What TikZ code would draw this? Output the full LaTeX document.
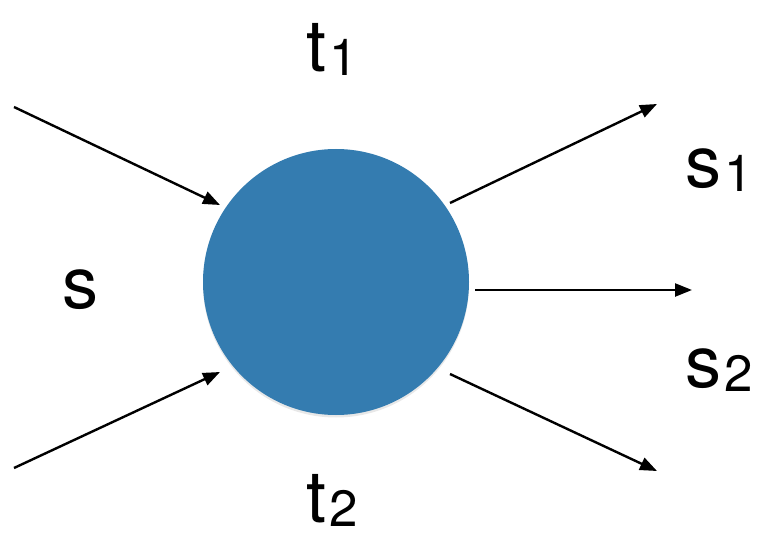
\documentclass[tikz,border=0pt]{standalone}
\usepackage{fontspec}
\setmainfont{TeX Gyre Heros}
\usetikzlibrary{arrows.meta,shadows}
\definecolor{ballblue}{RGB}{52,124,176}
\tikzset{
  flow/.style={line width=2.4pt,-{Triangle[length=17pt,width=13pt]}},
  lbl/.style={anchor=base west,inner sep=0pt,font=\fontsize{72}{72}\selectfont},
}
\newcommand{\subnum}[1]{\kern3pt\raisebox{-4pt}{\fontsize{51}{51}\selectfont #1}}
\begin{document}
\begin{tikzpicture}[x=1pt,y=-1pt]
\useasboundingbox (0,0) rectangle (763,540);
\node[circle,fill=ballblue,minimum size=266pt,inner sep=0pt,
      drop shadow={opacity=0.18,shadow xshift=0pt,shadow yshift=-2.5pt}] (c) at (336,282) {};
% endpoints
\coordinate (inA) at (14,107);
\coordinate (inAt) at (220,205);
\coordinate (inB) at (14,468);
\coordinate (inBt) at (220,372);
\coordinate (outAs) at (450,203);
\coordinate (outA) at (657,104);
\coordinate (outBs) at (475,290);
\coordinate (outB) at (692,290);
\coordinate (outCs) at (450,374);
\coordinate (outC) at (657,471);
\draw[flow] (inA) -- (inAt);
\draw[flow] (inB) -- (inBt);
\draw[flow] (outAs) -- (outA);
\draw[flow] (outBs) -- (outB);
\draw[flow] (outCs) -- (outC);
% labels
\node[lbl] (t1) at (306,72) {t\subnum{1}};
\node[lbl] (s) at (62,308) {s};
\node[lbl] (s1) at (685,188) {s\subnum{1}};
\node[lbl] (s2) at (685,387) {s\subnum{2}};
\node[lbl] (t2) at (306,522) {t\subnum{2}};
\end{tikzpicture}
\end{document}
